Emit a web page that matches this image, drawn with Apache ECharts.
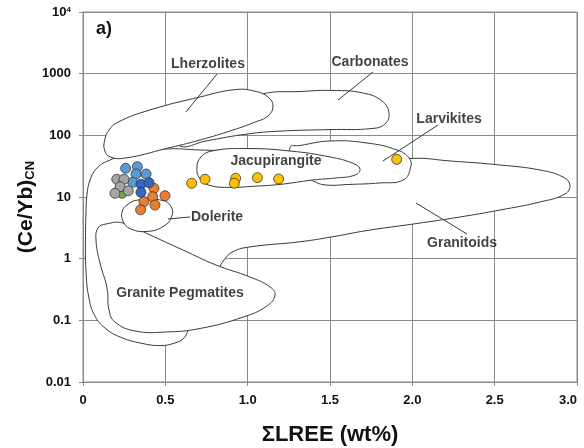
<!DOCTYPE html>
<html>
<head>
<meta charset="utf-8">
<script src="https://cdn.jsdelivr.net/npm/echarts@6/dist/echarts.min.js"></script>
<style>
  html, body { margin: 0; padding: 0; background: #fff; }
  #chart { width: 584px; height: 448px; }
</style>
</head>
<body>
<div id="chart"></div>
<script>
// Sample compositions: [ΣLREE wt%, (Ce/Yb)CN]
const greenSamples = [[0.237, 11.5]];
const orangeSamples = [[0.431, 13.8], [0.498, 10.5], [0.423, 10.1], [0.370, 8.4], [0.437, 7.4], [0.350, 6.2]];
const lightBlueSamples = [[0.259, 29.2], [0.330, 31], [0.322, 23.6], [0.383, 23.6], [0.302, 17.3]];
const greySamples = [[0.205, 19.4], [0.249, 19.4], [0.225, 14.7], [0.275, 12.6], [0.194, 11.5]];
const darkBlueSamples = [[0.352, 16.1], [0.401, 17.1], [0.352, 11.9]];
const yellowSamples = [[0.660, 16.7], [0.741, 19.4], [0.927, 20.1], [0.919, 16.7], [1.059, 20.6], [1.188, 19.6], [1.905, 40.8]];

// Reference field outlines, in data units
const granitoidsField = [[0.024, 10.8], [0.043, 18.9], [0.085, 29.5], [0.164, 39.8], [0.285, 49.8], [0.498, 60], [0.711, 57.8], [1.075, 53.7], [1.439, 39.8], [1.804, 33], [1.986, 42.1], [2.229, 38.4], [2.533, 33], [2.775, 27.4], [2.915, 21.1], [2.957, 15.7], [2.927, 11.2], [2.775, 8.3], [2.533, 6.15], [2.289, 4.74], [2.028, 3.72], [1.725, 2.86], [1.518, 2.27], [1.318, 1.88], [1.014, 1.55], [0.911, 1.30], [0.856, 0.95], [0.820, 0.65], [0.711, 0.214], [0.638, 0.070], [0.613, 0.0517], [0.559, 0.043], [0.468, 0.039], [0.346, 0.043], [0.225, 0.0537], [0.134, 0.075], [0.073, 0.117], [0.036, 0.230], [0.018, 0.65], [0.015, 2.01], [0.018, 5.5]];
const carbonatesField = [[0.953, 310], [1.087, 468], [1.318, 514], [1.518, 534], [1.700, 486], [1.816, 360], [1.858, 230], [1.834, 153], [1.755, 129], [1.500, 124], [1.196, 117], [0.996, 105], [0.747, 81], [0.589, 67], [0.559, 122]];
const lherzolitesField = [[0.132, 84], [0.158, 122], [0.213, 164], [0.407, 258], [0.711, 419], [0.929, 553], [1.051, 514], [1.123, 419], [1.154, 299], [1.123, 206], [1.045, 164], [0.911, 122], [0.711, 84], [0.504, 61], [0.261, 43], [0.164, 44.6], [0.131, 57.8]];
const larvikitesField = [[1.287, 33], [1.257, 63.5], [1.318, 68.4], [1.500, 81], [1.725, 75.1], [1.907, 57.8], [1.980, 42.9], [1.990, 30.6], [1.945, 18.9], [1.804, 16.9], [1.621, 16], [1.470, 15.7], [1.397, 18.2], [1.348, 21.9]];
const jacupirangiteField = [[0.692, 30.6], [0.717, 44.6], [0.783, 55.7], [0.984, 61.1], [1.257, 55.7], [1.500, 44.6], [1.634, 35.6], [1.682, 28.5], [1.652, 22.7], [1.530, 20.3], [1.397, 18.9], [1.196, 16], [1.014, 14.8], [0.893, 14.3], [0.771, 15.4], [0.711, 19.6]];
const pegmatitesField = [[0.079, 2.01], [0.091, 3.14], [0.140, 3.65], [0.243, 3.79], [0.407, 2.42], [0.607, 1.38], [0.808, 0.789], [1.014, 0.504], [1.136, 0.347], [1.166, 0.258], [1.117, 0.171], [0.972, 0.113], [0.711, 0.0738], [0.504, 0.0647], [0.316, 0.0672], [0.194, 0.094], [0.158, 0.147], [0.146, 0.334], [0.103, 0.851]];
const doleriteField = [[0.237, 5.71], [0.267, 7.42], [0.334, 8.94], [0.486, 8.77], [0.534, 7.01], [0.540, 4.92], [0.492, 3.39], [0.389, 2.76], [0.285, 3.08], [0.243, 4.08]];

// Field names and their label anchors
const fieldNames = ['Lherzolites', 'Carbonates', 'Larvikites', 'Jacupirangite', 'Dolerite', 'Granitoids', 'Granite Pegmatites'];
const fieldLabelPos = [[0.759, 1435], [1.743, 1517], [2.223, 184], [1.172, 38.4], [0.814, 4.66], [2.302, 1.80], [0.589, 0.277]];
// Leader lines: [x1, y1, x2, y2]
const leaderLines = [
  [0.814, 986, 0.625, 239],
  [1.761, 1064, 1.549, 374],
  [2.156, 147, 1.822, 38.4],
  [0.650, 4.74, 0.516, 4.4],
  [2.332, 2.51, 2.022, 8.0]
];

const yTickLabels = { '-2': '0.01', '-1': '0.1', '0': '1', '1': '10', '2': '100', '3': '1000', '4': '{b|10}{s|4}' };

// drawing order: back to front
const fields = [granitoidsField, carbonatesField, lherzolitesField, larvikitesField, jacupirangiteField, pegmatitesField, doleriteField];

const FONT = '"Liberation Sans", Arial, sans-serif';
const GRID_COLOR = '#8a8a8a';

function samplesSeries(data, color) {
  return {
    type: 'scatter',
    data: data,
    symbolSize: 10,
    itemStyle: { color: color, borderColor: '#333', borderWidth: 0.8, opacity: 1 },
    z: 5
  };
}

const chart = echarts.init(document.getElementById('chart'), null, { renderer: 'canvas' });

chart.setOption({
  animation: false,
  backgroundColor: '#fff',
  title: {
    text: 'a)', left: 91, top: 15,
    textStyle: { fontFamily: FONT, fontWeight: 'bold', fontSize: 18, color: '#111' }
  },
  // vertical axis title, rotated
  graphic: [{
    type: 'text',
    x: 26, y: 207,
    rotation: Math.PI / 2,
    style: {
      text: '(Ce/Yb){sub|CN}',
      fontFamily: FONT, fontWeight: 'bold', fontSize: 21, fill: '#111',
      align: 'center', verticalAlign: 'middle',
      rich: {
        sub: { fontFamily: FONT, fontWeight: 'bold', fontSize: 13, fill: '#111', verticalAlign: 'bottom' }
      }
    }
  }],
  grid: {
    left: 83, right: 7, top: 12, bottom: 66,
    outerBoundsMode: 'none', containLabel: false,
    show: true, borderColor: GRID_COLOR, borderWidth: 1, backgroundColor: 'transparent'
  },
  xAxis: {
    type: 'value', min: 0, max: 3, interval: 0.5,
    name: 'ΣLREE (wt%)', nameLocation: 'middle', nameGap: 42,
    nameTextStyle: { fontFamily: FONT, fontWeight: 'bold', fontSize: 22, color: '#111' },
    axisLine: { lineStyle: { color: GRID_COLOR } },
    axisTick: { show: true, length: 4, lineStyle: { color: GRID_COLOR } },
    axisLabel: {
      margin: 12, fontFamily: FONT, fontWeight: 'bold', fontSize: 13, color: '#111',
      alignMaxLabel: 'right',
      formatter: v => (v === 0 ? '0' : v.toFixed(1))
    },
    splitLine: { show: true, lineStyle: { color: GRID_COLOR, width: 1 } }
  },
  yAxis: {
    type: 'log', logBase: 10, min: 0.01, max: 10000,
    axisLine: { show: true, lineStyle: { color: GRID_COLOR } },
    axisTick: { show: true, length: 4, lineStyle: { color: GRID_COLOR } },
    axisLabel: {
      margin: 12, fontFamily: FONT, fontWeight: 'bold', fontSize: 13, color: '#111',
      formatter: v => yTickLabels[String(Math.round(Math.log10(v)))] || '',
      rich: {
        b: { fontFamily: FONT, fontWeight: 'bold', fontSize: 13, color: '#111' },
        s: { fontFamily: FONT, fontWeight: 'bold', fontSize: 8, color: '#111', verticalAlign: 'top' }
      }
    },
    splitLine: { show: true, lineStyle: { color: GRID_COLOR, width: 1 } }
  },
  series: [
    {
      // white-filled reference fields
      type: 'custom',
      coordinateSystem: 'cartesian2d',
      data: fields.map((f, i) => [f[0][0], f[0][1], i]),
      renderItem: (params, api) => {
        const pts = fields[api.value(2)].map(p => api.coord(p));
        return {
          type: 'polygon',
          shape: { points: pts, smooth: 0.45 },
          style: { fill: '#fff', stroke: '#3a3a3a', lineWidth: 1 }
        };
      },
      z: 2, silent: true
    },
    {
      // leader lines from field names
      type: 'custom',
      coordinateSystem: 'cartesian2d',
      data: leaderLines,
      encode: { x: [0, 2], y: [1, 3] },
      renderItem: (params, api) => {
        const a = api.coord([api.value(0), api.value(1)]);
        const b = api.coord([api.value(2), api.value(3)]);
        return {
          type: 'line',
          shape: { x1: a[0], y1: a[1], x2: b[0], y2: b[1] },
          style: { stroke: '#3a3a3a', lineWidth: 1 }
        };
      },
      z: 3, silent: true
    },
    {
      // field names
      type: 'scatter',
      data: fieldLabelPos.map((p, i) => ({ value: p, name: fieldNames[i] })),
      symbolSize: 0,
      label: {
        show: true, position: 'inside', formatter: '{b}',
        fontFamily: FONT, fontWeight: 'bold', fontSize: 14, color: '#111'
      },
      z: 4, silent: true
    },
    samplesSeries(greenSamples, '#70AD47'),
    samplesSeries(orangeSamples, '#ED7D31'),
    samplesSeries(lightBlueSamples, '#5B9BD5'),
    samplesSeries(greySamples, '#A5A5A5'),
    samplesSeries(darkBlueSamples, '#3467C2'),
    samplesSeries(yellowSamples, '#FFC000')
  ]
});
</script>
</body>
</html>
